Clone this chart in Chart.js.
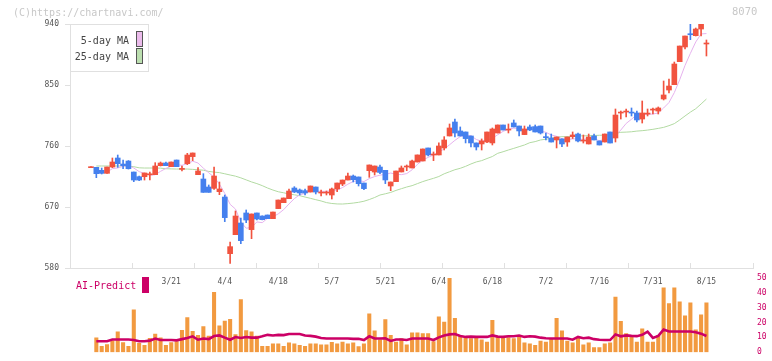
<!DOCTYPE html>
<html>
<head>
<meta charset="utf-8">
<script src="https://cdn.jsdelivr.net/npm/chart.js@4.4.1/dist/chart.umd.min.js"></script>
<style>
  html, body { margin: 0; padding: 0; background: #fff; }
  body { width: 772px; height: 361px; position: relative; overflow: hidden; font-family: 'DejaVu Sans Mono', monospace; }
  canvas { position: absolute; left: 0; top: 0; }
  .txt { position: absolute; white-space: nowrap; font-family: 'DejaVu Sans Mono', monospace; }
</style>
</head>
<body>
<canvas id="vol" width="772" height="361"></canvas>
<canvas id="main" width="772" height="361"></canvas>

<div class="txt" style="left:13px;top:7px;font-size:10px;line-height:12px;color:#c8c8c8;">(C)https://chartnavi.com/</div>
<div class="txt" style="left:732px;top:5px;font-size:10.5px;line-height:12px;color:#c8c8c8;">8070</div>

<div style="position:absolute;left:70px;top:24px;width:77px;height:46px;border:1px solid #e0e0e0;background:#fff;"></div>
<div class="txt" style="left:60px;width:69px;text-align:right;top:35px;font-size:10px;line-height:12px;color:#444;">5-day MA</div>
<div class="txt" style="left:60px;width:69px;text-align:right;top:51px;font-size:10px;line-height:12px;color:#444;">25-day MA</div>
<div style="position:absolute;left:136px;top:31px;width:5px;height:14px;border:1px solid #555;background:#ebbbeb;"></div>
<div style="position:absolute;left:136px;top:48px;width:5px;height:14px;border:1px solid #555;background:#bcdfb0;"></div>

<div class="txt" style="left:76px;top:280px;font-size:10px;line-height:12px;color:#cc0066;">AI-Predict</div>
<div style="position:absolute;left:142px;top:277px;width:7px;height:16px;background:#cc0066;"></div>

<script>
// ---- data ----
const opens = [
  728.0,728.5,724.1,719.7,729.0,742.3,733.4,737.8,721.6,714.7,
  714.7,717.5,717.7,731.0,734.9,729.5,739.3,725.5,733.9,744.3,
  717.7,711.3,699.5,697.5,692.6,684.7,601.1,629.2,646.4,661.2,
  636.6,661.2,656.7,658.2,652.8,667.6,676.4,682.3,698.0,695.1,
  694.1,692.1,699.5,690.6,690.6,687.7,696.6,703.9,709.8,715.7,
  714.3,705.4,723.6,721.6,729.0,724.1,701.0,707.4,721.7,729.0,
  727.6,736.4,737.9,757.1,746.7,746.8,757.1,774.8,795.4,782.2,
  780.7,774.8,764.5,763.0,765.9,764.5,779.2,791.0,783.5,794.0,
  789.5,776.8,788.1,788.6,789.5,772.4,771.8,768.9,770.4,765.9,
  773.8,777.7,767.3,763.0,774.8,767.4,765.9,780.7,771.8,808.6,
  810.1,808.7,808.7,799.8,807.1,813.0,811.6,829.4,842.6,850.5,
  884.4,906.1,924.3,922.8,932.6,910.5
];
const highs = [
  729.0,728.5,727.5,729.0,742.3,746.7,739.3,738.5,721.6,715.7,
  720.2,721.6,735.4,736.4,736.4,736.4,739.3,730.5,749.2,749.7,
  728.0,719.2,702.5,729.0,706.9,687.7,618.4,664.1,653.8,665.6,
  659.7,661.2,657.0,658.2,662.6,680.3,683.3,696.6,700.0,696.6,
  696.6,701.0,699.5,695.1,693.6,698.0,705.4,709.8,720.2,717.2,
  714.3,705.4,732.0,730.5,732.0,724.1,706.9,723.1,730.5,732.0,
  739.4,746.8,755.6,757.1,751.2,764.5,773.8,792.5,799.9,788.1,
  780.7,774.8,764.5,770.4,780.7,786.6,791.0,791.0,792.5,798.4,
  789.5,789.5,791.0,791.0,789.5,779.2,777.7,773.3,770.4,773.3,
  780.7,779.2,776.2,777.7,777.7,767.4,777.7,780.7,814.6,811.6,
  814.6,816.1,811.6,826.4,814.6,816.1,817.6,855.9,858.9,883.9,
  907.5,922.3,940.0,934.1,940.0,916.4
];
const lows = [
  728.0,713.3,718.7,719.7,728.0,728.5,726.5,726.0,707.4,708.9,
  709.8,709.8,717.7,730.5,731.0,729.5,729.5,723.1,732.5,738.4,
  717.7,691.6,691.6,696.1,688.2,648.4,586.9,629.2,615.9,646.9,
  623.3,650.8,651.0,652.8,652.8,667.6,676.4,682.3,691.2,687.7,
  687.7,692.1,689.2,686.2,687.7,681.8,692.6,701.5,709.8,706.9,
  701.0,695.6,713.8,717.2,719.0,704.5,694.1,707.4,721.7,723.6,
  727.6,736.4,737.9,745.3,738.4,746.8,754.1,774.8,773.3,774.8,
  764.5,758.6,754.1,754.1,765.0,761.5,779.2,783.6,779.2,788.1,
  774.8,776.8,782.6,780.7,777.7,768.9,765.9,757.1,759.0,759.5,
  771.0,765.9,764.4,763.0,768.9,761.5,765.9,764.4,765.9,799.8,
  802.8,804.3,795.4,793.9,804.3,807.2,807.2,827.9,838.2,850.5,
  884.4,903.1,916.9,922.3,922.3,892.8
];
const closes = [
  729.0,719.2,719.7,729.0,736.4,733.9,731.0,726.5,709.8,709.8,
  720.2,717.7,730.5,734.9,731.0,736.4,729.5,725.6,746.7,749.7,
  723.1,691.6,691.6,715.7,696.6,654.3,611.5,656.7,620.3,650.8,
  659.7,652.3,651.3,652.8,662.6,680.3,683.3,693.6,692.1,690.7,
  690.7,701.0,692.1,690.8,690.8,696.6,705.4,709.8,715.7,710.3,
  704.4,697.1,732.0,730.5,721.0,709.9,706.9,723.1,727.6,729.1,
  737.9,746.8,755.6,746.8,746.8,760.0,768.9,786.6,779.2,774.8,
  770.9,764.5,758.6,767.4,780.7,785.1,791.0,783.6,783.7,788.1,
  782.2,785.1,783.6,780.7,779.2,772.3,765.9,773.3,763.0,773.3,
  776.3,767.4,767.5,773.3,768.9,761.5,777.7,764.4,805.7,808.7,
  810.2,808.6,798.4,808.7,807.3,813.1,816.1,835.3,848.5,881.0,
  907.5,922.3,924.2,932.6,940.0,910.6
];
const ma5 = [
  null,720.5,720.0,721.5,726.6,727.6,730.0,731.4,727.5,722.2,
  719.5,716.8,717.6,722.6,726.9,730.1,732.5,731.5,733.8,737.6,
  734.9,727.3,720.5,714.3,703.7,690.0,673.9,667.0,647.9,638.7,
  639.8,648.0,646.9,653.4,655.7,659.9,666.1,674.5,682.4,688.0,
  690.1,693.6,693.3,693.1,693.1,694.3,695.1,698.7,703.7,707.6,
  709.1,707.5,711.9,714.9,717.0,718.1,720.1,718.3,717.7,719.3,
  724.9,732.9,739.4,743.2,746.8,751.2,755.6,761.8,768.3,773.9,
  776.1,775.2,769.6,767.2,768.4,771.3,776.6,781.6,784.8,786.3,
  785.7,784.5,784.5,783.9,782.2,780.2,776.3,774.3,770.7,769.6,
  770.4,770.7,769.5,771.6,770.7,767.7,769.8,769.2,775.6,783.6,
  793.3,799.5,806.3,806.9,806.6,807.2,808.7,816.1,824.1,838.8,
  857.7,878.9,896.7,913.5,925.3,925.9
];
const ma25 = [
  null,730.5,730.5,730.5,730.5,730.5,730.5,730.2,729.5,727.8,
  727.5,727.5,727.5,727.3,726.5,726.2,726.0,726.0,726.0,725.5,
  725.0,724.3,722.5,721.5,720.7,719.0,717.2,715.5,713.0,710.0,
  707.0,704.5,701.5,698.0,695.0,692.5,691.0,689.2,688.0,686.7,
  684.7,682.8,680.8,678.9,676.5,675.2,674.5,674.4,675.0,675.8,
  676.9,678.5,681.0,684.0,687.7,689.5,691.5,694.5,697.0,699.5,
  701.5,704.5,707.5,710.0,712.3,715.0,719.0,722.0,725.0,727.1,
  730.0,733.5,736.5,738.4,741.5,744.5,749.2,751.5,754.1,756.5,
  759.0,761.5,764.9,766.5,768.9,770.0,771.3,773.0,773.8,773.8,
  774.0,774.8,775.0,775.2,775.5,775.8,776.0,776.5,778.5,780.2,
  780.5,781.0,782.0,782.6,783.5,784.6,786.0,787.5,790.0,793.0,
  798.4,804.3,810.0,815.0,822.0,829.3
];
const volumes = [
  null,9.6,4.0,5.2,7.7,13.8,6.5,4.0,28.5,5.9,
  4.6,9.4,12.2,9.6,4.6,6.5,7.1,14.7,23.3,14.0,
  11.3,17.2,10.9,40.4,17.8,20.9,22.2,11.9,35.4,14.5,
  13.8,10.9,4.0,4.0,5.7,5.7,4.0,6.3,5.7,4.6,
  4.0,5.7,5.7,5.0,5.0,6.7,5.7,6.9,5.7,6.3,
  3.8,5.7,25.8,14.4,8.4,22.0,11.3,6.9,9.2,5.0,
  13.0,13.0,12.6,12.6,7.1,23.8,20.3,49.7,22.8,10.7,
  9.9,9.2,10.7,8.4,6.9,21.4,10.7,9.9,9.9,9.2,
  10.7,6.3,5.7,4.6,7.5,6.9,9.4,22.8,14.4,7.5,
  6.3,9.4,5.0,6.3,3.1,3.1,5.7,6.3,37.1,20.8,
  12.6,11.3,6.9,15.7,6.9,6.9,11.3,43.4,32.7,43.4,
  34.0,24.5,33.3,15.1,25.2,33.3
];
const aiPredict = [
  null,7.4,7.4,7.4,8.6,8.6,8.6,8.6,8.2,7.4,
  7.4,7.8,9.2,8.2,8.2,8.2,8.0,8.8,9.6,10.7,
  8.4,9.2,8.8,10.9,11.3,9.8,8.4,10.2,9.6,10.2,
  9.8,9.8,10.7,11.7,11.3,11.7,11.5,12.3,12.3,12.3,
  11.3,11.0,10.5,9.6,9.2,9.2,9.2,9.2,9.2,9.0,
  9.0,8.2,10.7,9.2,9.2,9.4,7.6,8.6,8.6,8.2,
  9.2,9.2,9.2,9.2,8.2,10.0,11.3,12.0,12.3,10.9,
  10.3,10.5,10.3,10.3,10.3,11.3,10.5,10.3,10.7,10.7,
  11.2,10.3,10.7,10.5,9.8,9.4,9.2,9.2,9.2,9.2,
  8.4,10.3,9.4,9.8,8.8,8.4,8.2,8.2,12.0,10.7,
  11.3,11.0,10.8,11.7,13.9,9.6,11.0,15.2,13.9,13.9,
  13.9,13.9,13.9,13.5,12.5,10.9
];
const tickDates = ['3/21','4/4','4/18','5/7','5/21','6/4','6/18','7/2','7/16','7/31','8/15'];
const tickIndex = [15,25,35,45,55,65,75,85,95,105,115];
const priceTicks = [580,670,760,850,940];
const volumeTicks = [0,10,20,30,40,50];

// ---- chart ----
const X_MIN = -3.92, X_MAX = 123.7;
const RED = '#f1533f', BLUE = '#4580ee';
const FONT = { family: "'DejaVu Sans Mono', monospace", size: 8 };
const idx = closes.map((_, i) => i);
const candleColor = idx.map(i => closes[i] >= opens[i] ? RED : BLUE);
const gridTicks = [];
for (let k = 0; k <= 11; k++) gridTicks.push({ value: X_MIN + k * (X_MAX - X_MIN) / 11 });

new Chart(document.getElementById('main'), {
  type: 'bar',
  data: {
    datasets: [
      { label: 'body', xAxisID: 'x', yAxisID: 'y', grouped: false, order: 0,
        data: idx.map(i => ({ x: i, y: [opens[i], closes[i]] })),
        backgroundColor: candleColor, barThickness: 5, minBarLength: 1, borderWidth: 0 },
      { label: 'wick', xAxisID: 'x', yAxisID: 'y', grouped: false, order: 1,
        data: idx.map(i => ({ x: i, y: [lows[i], highs[i]] })),
        backgroundColor: candleColor, barThickness: 1, minBarLength: 1, borderWidth: 0 },
      { type: 'line', label: '5-day MA', xAxisID: 'x', yAxisID: 'y', order: 2,
        data: idx.map(i => ({ x: i, y: ma5[i] })),
        borderColor: '#e6b2ee', borderWidth: 1, pointRadius: 0, tension: 0, spanGaps: false },
      { type: 'line', label: '25-day MA', xAxisID: 'x', yAxisID: 'y', order: 3,
        data: idx.map(i => ({ x: i, y: ma25[i] })),
        borderColor: '#b2daa2', borderWidth: 1, pointRadius: 0, tension: 0 }
    ]
  },
  options: {
    responsive: false, animation: false, devicePixelRatio: 1,
    layout: { padding: { left: 0, right: 19, top: 24, bottom: 73 } },
    plugins: { legend: { display: false }, tooltip: { enabled: false } },
    scales: {
      x: {
        type: 'linear', position: 'bottom', min: X_MIN, max: X_MAX, weight: 1, offset: false,
        grid: { display: false, drawTicks: false, offset: false }, border: { display: false },
        afterBuildTicks: s => { s.ticks = tickIndex.map(v => ({ value: v })); },
        ticks: { callback: (v, i) => tickDates[i], font: FONT, color: '#555', padding: 9,
                 maxRotation: 0, autoSkip: false },
        afterFit: s => { s.height = 20; }
      },
      xg: {
        type: 'linear', position: 'bottom', min: X_MIN, max: X_MAX, weight: 0, offset: false,
        grid: { display: true, drawOnChartArea: false, drawTicks: true, tickLength: -5, color: '#e0e0e0', offset: false },
        border: { display: true, color: '#e0e0e0' },
        afterBuildTicks: s => { s.ticks = gridTicks.map(t => ({ value: t.value })); },
        ticks: { display: false },
        afterFit: s => { s.height = 0; }
      },
      y: {
        type: 'linear', position: 'left', min: 580, max: 940,
        afterBuildTicks: s => { s.ticks = priceTicks.map(v => ({ value: v })); },
        grid: { drawOnChartArea: false, tickLength: 5, color: '#e0e0e0' },
        border: { color: '#e0e0e0' },
        ticks: { font: FONT, color: '#555', padding: 6 },
        afterFit: s => { s.width = 70; }
      }
    }
  }
});

new Chart(document.getElementById('vol'), {
  type: 'bar',
  data: {
    datasets: [
      { type: 'line', label: 'AI-Predict', order: 0,
        data: idx.map(i => ({ x: i, y: aiPredict[i] })),
        borderColor: '#cc0066', borderWidth: 2.6, pointRadius: 0, tension: 0 },
      { label: 'Volume', order: 1,
        data: idx.map(i => ({ x: i, y: volumes[i] })),
        backgroundColor: '#f29a40', barThickness: 3.4, borderWidth: 0 }
    ]
  },
  options: {
    responsive: false, animation: false, devicePixelRatio: 1,
    layout: { padding: { left: 70, right: 0, top: 278, bottom: 3 } },
    plugins: { legend: { display: false }, tooltip: { enabled: false } },
    scales: {
      x: { type: 'linear', min: X_MIN, max: X_MAX, display: false, offset: false, grid: { offset: false } },
      y: {
        type: 'linear', position: 'right', min: 0, max: 50,
        afterBuildTicks: s => { s.ticks = volumeTicks.map(v => ({ value: v })); },
        grid: { display: false, drawTicks: false }, border: { display: false },
        ticks: { font: FONT, color: '#cc0066', padding: 4 },
        afterFit: s => { s.width = 19; }
      }
    }
  }
});
</script>
</body>
</html>
